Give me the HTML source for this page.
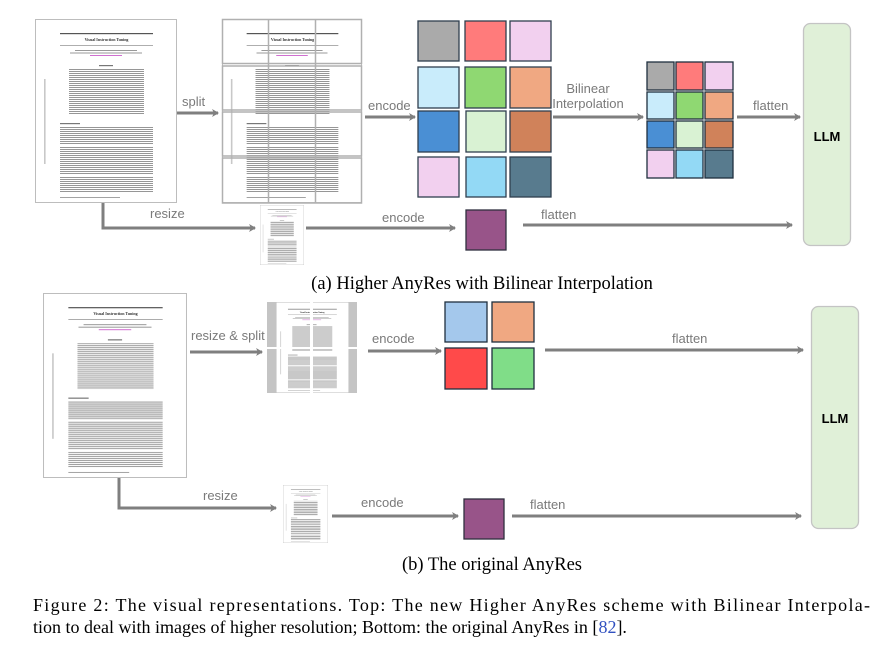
<!DOCTYPE html>
<html><head><meta charset="utf-8"><style>
html,body{margin:0;padding:0;background:#fff;}
svg{display:block;}
.lbl{font-family:"Liberation Sans",sans-serif;font-size:13px;fill:#7a7a7a;}
.cap{font-family:"Liberation Serif",serif;fill:#000;}
</style></head><body>
<svg width="893" height="645" viewBox="0 0 893 645" xmlns="http://www.w3.org/2000/svg">
<defs>
<pattern id="ln" width="4" height="2" patternUnits="userSpaceOnUse"><rect width="4" height="0.9" fill="#8a8a8a"/></pattern>
<marker id="ah" markerWidth="8" markerHeight="8" refX="6" refY="4" orient="auto" markerUnits="userSpaceOnUse"><path d="M0,0 L7,4 L0,8 L2,4 Z" fill="#7f7f7f"/></marker>
<symbol id="doc" viewBox="0 0 142 184" preserveAspectRatio="none">
<rect x="0.5" y="0.5" width="141" height="183" fill="#fff" stroke="#bdbdbd" stroke-width="1"/>
<rect x="25" y="14" width="93" height="1.2" fill="#555"/>
<text x="71.5" y="22" font-size="4" text-anchor="middle" font-family="Liberation Serif" font-weight="bold" fill="#333">Visual Instruction Tuning</text>
<rect x="25" y="26" width="93" height="0.6" fill="#777"/>
<rect x="40" y="31" width="62" height="1" fill="#999"/>
<rect x="35" y="33.5" width="72" height="1" fill="#999"/>
<rect x="55" y="36" width="32" height="1" fill="#d070d0"/>
<rect x="64" y="46" width="14" height="1.2" fill="#777"/>
<rect x="34" y="50" width="75" height="46" fill="url(#ln)"/>
<rect x="25" y="104" width="20" height="1.2" fill="#777"/>
<rect x="25" y="108" width="93" height="18" fill="url(#ln)"/>
<rect x="25" y="128" width="93" height="28" fill="url(#ln)"/>
<rect x="25" y="158" width="93" height="16" fill="url(#ln)"/>
<rect x="25" y="178" width="60" height="0.9" fill="#999"/>
<rect x="9" y="60" width="1.6" height="85" fill="#c8c8c8"/>
</symbol>
</defs>

<!-- ===== TOP (a) ===== -->
<use href="#doc" x="35" y="19" width="142" height="184"/>
<!-- split grid -->
<rect x="222" y="19" width="140" height="184" fill="#fff"/>
<svg x="222" y="19" width="140" height="184" viewBox="0 0 142 184" preserveAspectRatio="none"><use href="#doc" x="0" y="0" width="142" height="184"/></svg>
<g fill="none" stroke="#b0b0b0" stroke-width="1.5">
<rect x="222.5" y="19.5" width="139" height="44"/>
<rect x="222.5" y="66" width="139" height="44"/>
<rect x="222.5" y="112" width="139" height="44"/>
<rect x="222.5" y="158" width="139" height="45"/>
<line x1="268.5" y1="19" x2="268.5" y2="203"/>
<line x1="315.5" y1="19" x2="315.5" y2="203"/>
</g>
<!-- arrows top -->
<g stroke="#7f7f7f" stroke-width="3" fill="none" marker-end="url(#ah)">
<line x1="177" y1="113" x2="218" y2="113"/>
<line x1="365" y1="117" x2="415" y2="117"/>
<line x1="553" y1="117" x2="643" y2="117"/>
<line x1="737" y1="117" x2="800" y2="117"/>
<polyline points="103,203 103,228 255,228"/>
<line x1="306" y1="228" x2="455" y2="228"/>
<line x1="523" y1="225" x2="792" y2="225"/>
</g>
<text class="lbl" x="182" y="106">split</text>
<text class="lbl" x="368" y="110">encode</text>
<text class="lbl" x="588" y="93" text-anchor="middle">Bilinear</text>
<text class="lbl" x="588" y="108" text-anchor="middle">Interpolation</text>
<text class="lbl" x="753" y="110">flatten</text>
<text class="lbl" x="150" y="218">resize</text>
<text class="lbl" x="382" y="222">encode</text>
<text class="lbl" x="541" y="219">flatten</text>
<!-- token grid -->
<g stroke="#2f3f4f" stroke-width="1.3">
<rect x="418" y="21" width="41" height="40" fill="#aaaaaa"/>
<rect x="465" y="21" width="41" height="40" fill="#ff7b7b"/>
<rect x="510" y="21" width="41" height="40" fill="#f2d0ef"/>
<rect x="418" y="67" width="41" height="41" fill="#c9ecfb"/>
<rect x="465" y="67" width="41" height="41" fill="#8fd872"/>
<rect x="510" y="67" width="41" height="41" fill="#f0a882"/>
<rect x="418" y="111" width="41" height="41" fill="#4a8fd4"/>
<rect x="466" y="111" width="40" height="41" fill="#d9f2d3"/>
<rect x="510" y="111" width="41" height="41" fill="#d0825a"/>
<rect x="418" y="157" width="41" height="40" fill="#f2d0ef"/>
<rect x="466" y="157" width="40" height="40" fill="#93d9f5"/>
<rect x="510" y="157" width="41" height="40" fill="#587b8e"/>
</g>
<g stroke="#1f2f3f" stroke-width="1.3">
<rect x="647" y="62" width="27" height="28" fill="#aaaaaa"/>
<rect x="676" y="62" width="27" height="28" fill="#ff7b7b"/>
<rect x="705" y="62" width="28" height="28" fill="#f2d0ef"/>
<rect x="647" y="92" width="27" height="27" fill="#c9ecfb"/>
<rect x="676" y="92" width="27" height="27" fill="#8fd872"/>
<rect x="705" y="92" width="28" height="27" fill="#f0a882"/>
<rect x="647" y="121" width="27" height="27" fill="#4a8fd4"/>
<rect x="676" y="121" width="27" height="27" fill="#d9f2d3"/>
<rect x="705" y="121" width="28" height="27" fill="#d0825a"/>
<rect x="647" y="150" width="27" height="28" fill="#f2d0ef"/>
<rect x="676" y="150" width="27" height="28" fill="#93d9f5"/>
<rect x="705" y="150" width="28" height="28" fill="#587b8e"/>
</g>
<use href="#doc" x="260" y="205" width="44" height="60"/>
<rect x="466" y="210" width="40" height="40" fill="#985489" stroke="#2f2f3f" stroke-width="1.3"/>
<rect x="803.5" y="23.5" width="47" height="222" rx="7" fill="#e0f0d8" stroke="#c4c4c4" stroke-width="1.3"/>
<text x="827" y="141" text-anchor="middle" font-family="Liberation Sans" font-weight="bold" font-size="13" fill="#000">LLM</text>
<text class="cap" x="482" y="289" font-size="18.5" text-anchor="middle">(a) Higher AnyRes with Bilinear Interpolation</text>

<!-- ===== BOTTOM (b) ===== -->
<use href="#doc" x="43" y="293" width="144" height="185"/>
<!-- split tiles -->
<g>
<rect x="267" y="302" width="43" height="45" fill="#c4c4c4"/>
<rect x="313" y="302" width="44" height="45" fill="#c4c4c4"/>
<rect x="267" y="349" width="43" height="44" fill="#c4c4c4"/>
<rect x="313" y="349" width="44" height="44" fill="#c4c4c4"/>
<svg x="276" y="302" width="34" height="45" viewBox="0 0 71 92" preserveAspectRatio="none"><use href="#doc" x="0" y="0" width="142" height="184"/></svg>
<svg x="313" y="302" width="36" height="45" viewBox="71 0 71 92" preserveAspectRatio="none"><use href="#doc" x="0" y="0" width="142" height="184"/></svg>
<svg x="276" y="349" width="34" height="44" viewBox="0 92 71 92" preserveAspectRatio="none"><use href="#doc" x="0" y="0" width="142" height="184"/></svg>
<svg x="313" y="349" width="36" height="44" viewBox="71 92 71 92" preserveAspectRatio="none"><use href="#doc" x="0" y="0" width="142" height="184"/></svg>
</g>
<g stroke="#7f7f7f" stroke-width="3" fill="none" marker-end="url(#ah)">
<line x1="190" y1="352" x2="262" y2="352"/>
<line x1="368" y1="351" x2="441" y2="351"/>
<line x1="545" y1="350" x2="803" y2="350"/>
<polyline points="119,478 119,508 276,508"/>
<line x1="332" y1="516" x2="458" y2="516"/>
<line x1="512" y1="516" x2="801" y2="516"/>
</g>
<text class="lbl" x="191" y="340">resize &amp; split</text>
<text class="lbl" x="372" y="343">encode</text>
<text class="lbl" x="672" y="343">flatten</text>
<text class="lbl" x="203" y="500">resize</text>
<text class="lbl" x="361" y="507">encode</text>
<text class="lbl" x="530" y="509">flatten</text>
<g stroke="#1f2f3f" stroke-width="1.3">
<rect x="445" y="302" width="42" height="40" fill="#a4c8ec"/>
<rect x="492" y="302" width="42" height="40" fill="#f0a882"/>
<rect x="445" y="348" width="42" height="41" fill="#ff4a4a"/>
<rect x="492" y="348" width="42" height="41" fill="#80dd88"/>
</g>
<use href="#doc" x="283" y="485" width="45" height="58"/>
<rect x="464" y="499" width="40" height="40" fill="#985489" stroke="#2f2f3f" stroke-width="1.3"/>
<rect x="811.5" y="306.5" width="47" height="222" rx="7" fill="#e0f0d8" stroke="#c4c4c4" stroke-width="1.3"/>
<text x="835" y="423" text-anchor="middle" font-family="Liberation Sans" font-weight="bold" font-size="13" fill="#000">LLM</text>
<text class="cap" x="492" y="570" font-size="18.5" text-anchor="middle">(b) The original AnyRes</text>

<text class="cap" x="33" y="611" font-size="18" textLength="837" lengthAdjust="spacing">Figure 2: The visual representations. Top: The new Higher AnyRes scheme with Bilinear Interpola-</text>
<text class="cap" x="33" y="633" font-size="18">tion to deal with images of higher resolution; Bottom: the original AnyRes in [<tspan fill="#3050c0">82</tspan>].</text>
</svg>
</body></html>
